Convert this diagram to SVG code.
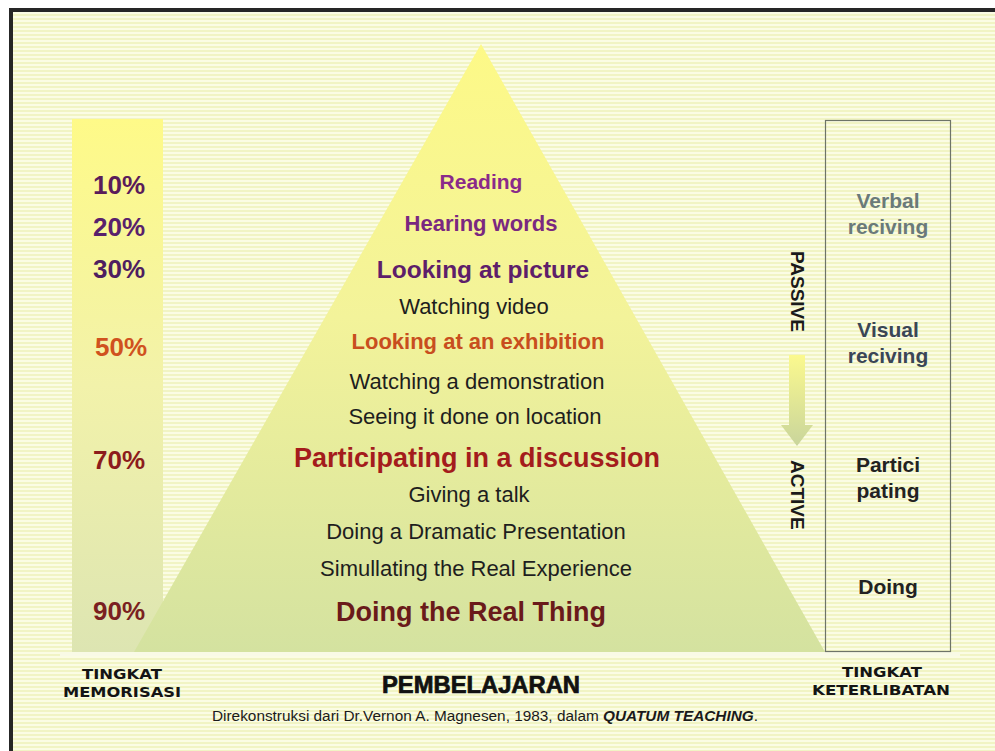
<svg xmlns="http://www.w3.org/2000/svg" width="995" height="751" viewBox="0 0 995 751">
<defs>
<pattern id="stripes" x="0" y="0" width="8" height="4" patternUnits="userSpaceOnUse">
<rect width="8" height="4" fill="#fbfce4"/>
<rect y="2" width="8" height="2" fill="#f1f4c4"/>
</pattern>
<linearGradient id="triGrad" x1="0" y1="0" x2="0" y2="1">
<stop offset="0" stop-color="#fdf987"/>
<stop offset="0.45" stop-color="#f3f39a"/>
<stop offset="1" stop-color="#d4e2a0"/>
</linearGradient>
<linearGradient id="barGrad" x1="0" y1="0" x2="0" y2="1">
<stop offset="0" stop-color="#fefa88"/>
<stop offset="0.5" stop-color="#f2f2aa"/>
<stop offset="1" stop-color="#dde5b2"/>
</linearGradient>
<linearGradient id="arrowGrad" x1="0" y1="0" x2="0" y2="1">
<stop offset="0" stop-color="#fbf98e"/>
<stop offset="1" stop-color="#c9d59c"/>
</linearGradient>
<style>
.t{font-family:"Liberation Sans",Arial,sans-serif;text-anchor:middle}
.b{font-weight:bold}
.reg{font-size:22px;fill:#1e1e1e}
.pct{font-family:"Liberation Sans",Arial,sans-serif;font-weight:bold;font-size:26px}
.rt{font-family:"Liberation Sans",Arial,sans-serif;font-weight:bold;font-size:21px;text-anchor:middle}
.cap{font-family:"DejaVu Sans",Verdana,sans-serif;font-weight:bold;font-size:14px;fill:#141414;text-anchor:middle}
.vt{font-family:"Liberation Sans",Arial,sans-serif;font-weight:bold;font-size:19px;fill:#1a1a1a}
</style>
</defs>
<rect width="995" height="751" fill="#ffffff"/>
<rect x="11" y="10" width="984" height="741" fill="url(#stripes)"/>
<rect x="9" y="8" width="986" height="4" fill="#262626"/>
<rect x="9" y="8" width="4" height="743" fill="#262626"/>

<g id="memorisasi-bar">
<rect x="72" y="119" width="91" height="533" fill="url(#barGrad)"/>
</g>
<g id="pyramid">
<polygon points="481,44 825,652 134,652" fill="url(#triGrad)"/>
</g>
<rect x="60" y="652" width="900" height="4" fill="#f9fae6"/>

<g id="keterlibatan-box">
<rect x="825.5" y="120.5" width="125" height="531" fill="none" stroke="#6e7468" stroke-width="1.2"/>
</g>

<g id="percentages">
<text class="pct" x="93" y="194" fill="#5a1c5a">10%</text>
<text class="pct" x="93" y="236" fill="#58206c">20%</text>
<text class="pct" x="93" y="278" fill="#4e1e60">30%</text>
<text class="pct" x="95" y="356" fill="#d0521e">50%</text>
<text class="pct" x="93" y="469" fill="#8c1c1c">70%</text>
<text class="pct" x="93" y="620" fill="#7a2020">90%</text>
</g>

<g id="levels">
<g id="reading"><text class="t b" x="481" y="189" font-size="21" fill="#8a2a8a">Reading</text></g>
<g id="hearing"><text class="t b" x="481" y="231" font-size="22" fill="#7a2880">Hearing words</text></g>
<g id="looking-picture"><text class="t b" x="483" y="278" font-size="24.5" fill="#5e1e6a">Looking at picture</text></g>
<g id="watching-video"><text class="t reg" x="474" y="314">Watching video</text></g>
<g id="looking-exhibition"><text class="t b" x="478" y="349" font-size="22" fill="#c84e1e">Looking at an exhibition</text></g>
<g id="watching-demo"><text class="t reg" x="477" y="389">Watching a demonstration</text></g>
<g id="seeing"><text class="t reg" x="475" y="424">Seeing it done on location</text></g>
<g id="participating"><text class="t b" x="477" y="467" font-size="27" fill="#a41c1c">Participating in a discussion</text></g>
<g id="giving-talk"><text class="t reg" x="469" y="502">Giving a talk</text></g>
<g id="dramatic"><text class="t reg" x="476" y="539">Doing a Dramatic Presentation</text></g>
<g id="simulating"><text class="t reg" x="476" y="576">Simullating the Real Experience</text></g>
<g id="doing-real"><text class="t b" x="471" y="621" font-size="27" fill="#6a1a1a">Doing the Real Thing</text></g>
</g>

<g id="involvement">
<g id="verbal"><text class="rt" x="888" y="208" fill="#6a7a7a">Verbal</text><text class="rt" x="888" y="234" fill="#6a7a7a">reciving</text></g>
<g id="visual"><text class="rt" x="888" y="337" fill="#3a4656">Visual</text><text class="rt" x="888" y="363" fill="#3a4656">reciving</text></g>
<g id="partici"><text class="rt" x="888" y="472" fill="#222">Partici</text><text class="rt" x="888" y="498" fill="#222">pating</text></g>
<g id="doing"><text class="rt" x="888" y="594" fill="#222">Doing</text></g>
</g>

<g id="passive-label"><text class="vt" transform="translate(791,251) rotate(90)">PASSIVE</text></g>
<g id="active-label"><text class="vt" transform="translate(791,460) rotate(90)">ACTIVE</text></g>

<g id="connectors">
<polygon points="789,355 805,355 805,425 813,425 797,446 781,425 789,425" fill="url(#arrowGrad)"/>
</g>

<g id="captions">
<g id="tingkat-memorisasi"><text class="cap" x="122" y="679" textLength="80" lengthAdjust="spacingAndGlyphs">TINGKAT</text><text class="cap" x="122" y="697" textLength="118" lengthAdjust="spacingAndGlyphs">MEMORISASI</text></g>
<g id="pembelajaran"><text class="t b" x="481" y="693" font-size="23" fill="#111" textLength="198" lengthAdjust="spacingAndGlyphs" stroke="#111" stroke-width="0.7">PEMBELAJARAN</text></g>
<g id="tingkat-keterlibatan"><text class="cap" x="882" y="677" textLength="80" lengthAdjust="spacingAndGlyphs">TINGKAT</text><text class="cap" x="881" y="695" textLength="138" lengthAdjust="spacingAndGlyphs">KETERLIBATAN</text></g>
<g id="credit"><text x="212" y="721" font-family="'Liberation Sans',Arial,sans-serif" font-size="14" fill="#1a1a1a" textLength="546" lengthAdjust="spacingAndGlyphs">Direkonstruksi dari Dr.Vernon A. Magnesen, 1983, dalam <tspan font-weight="bold" font-style="italic">QUATUM TEACHING</tspan>.</text></g>
</g>
</svg>
